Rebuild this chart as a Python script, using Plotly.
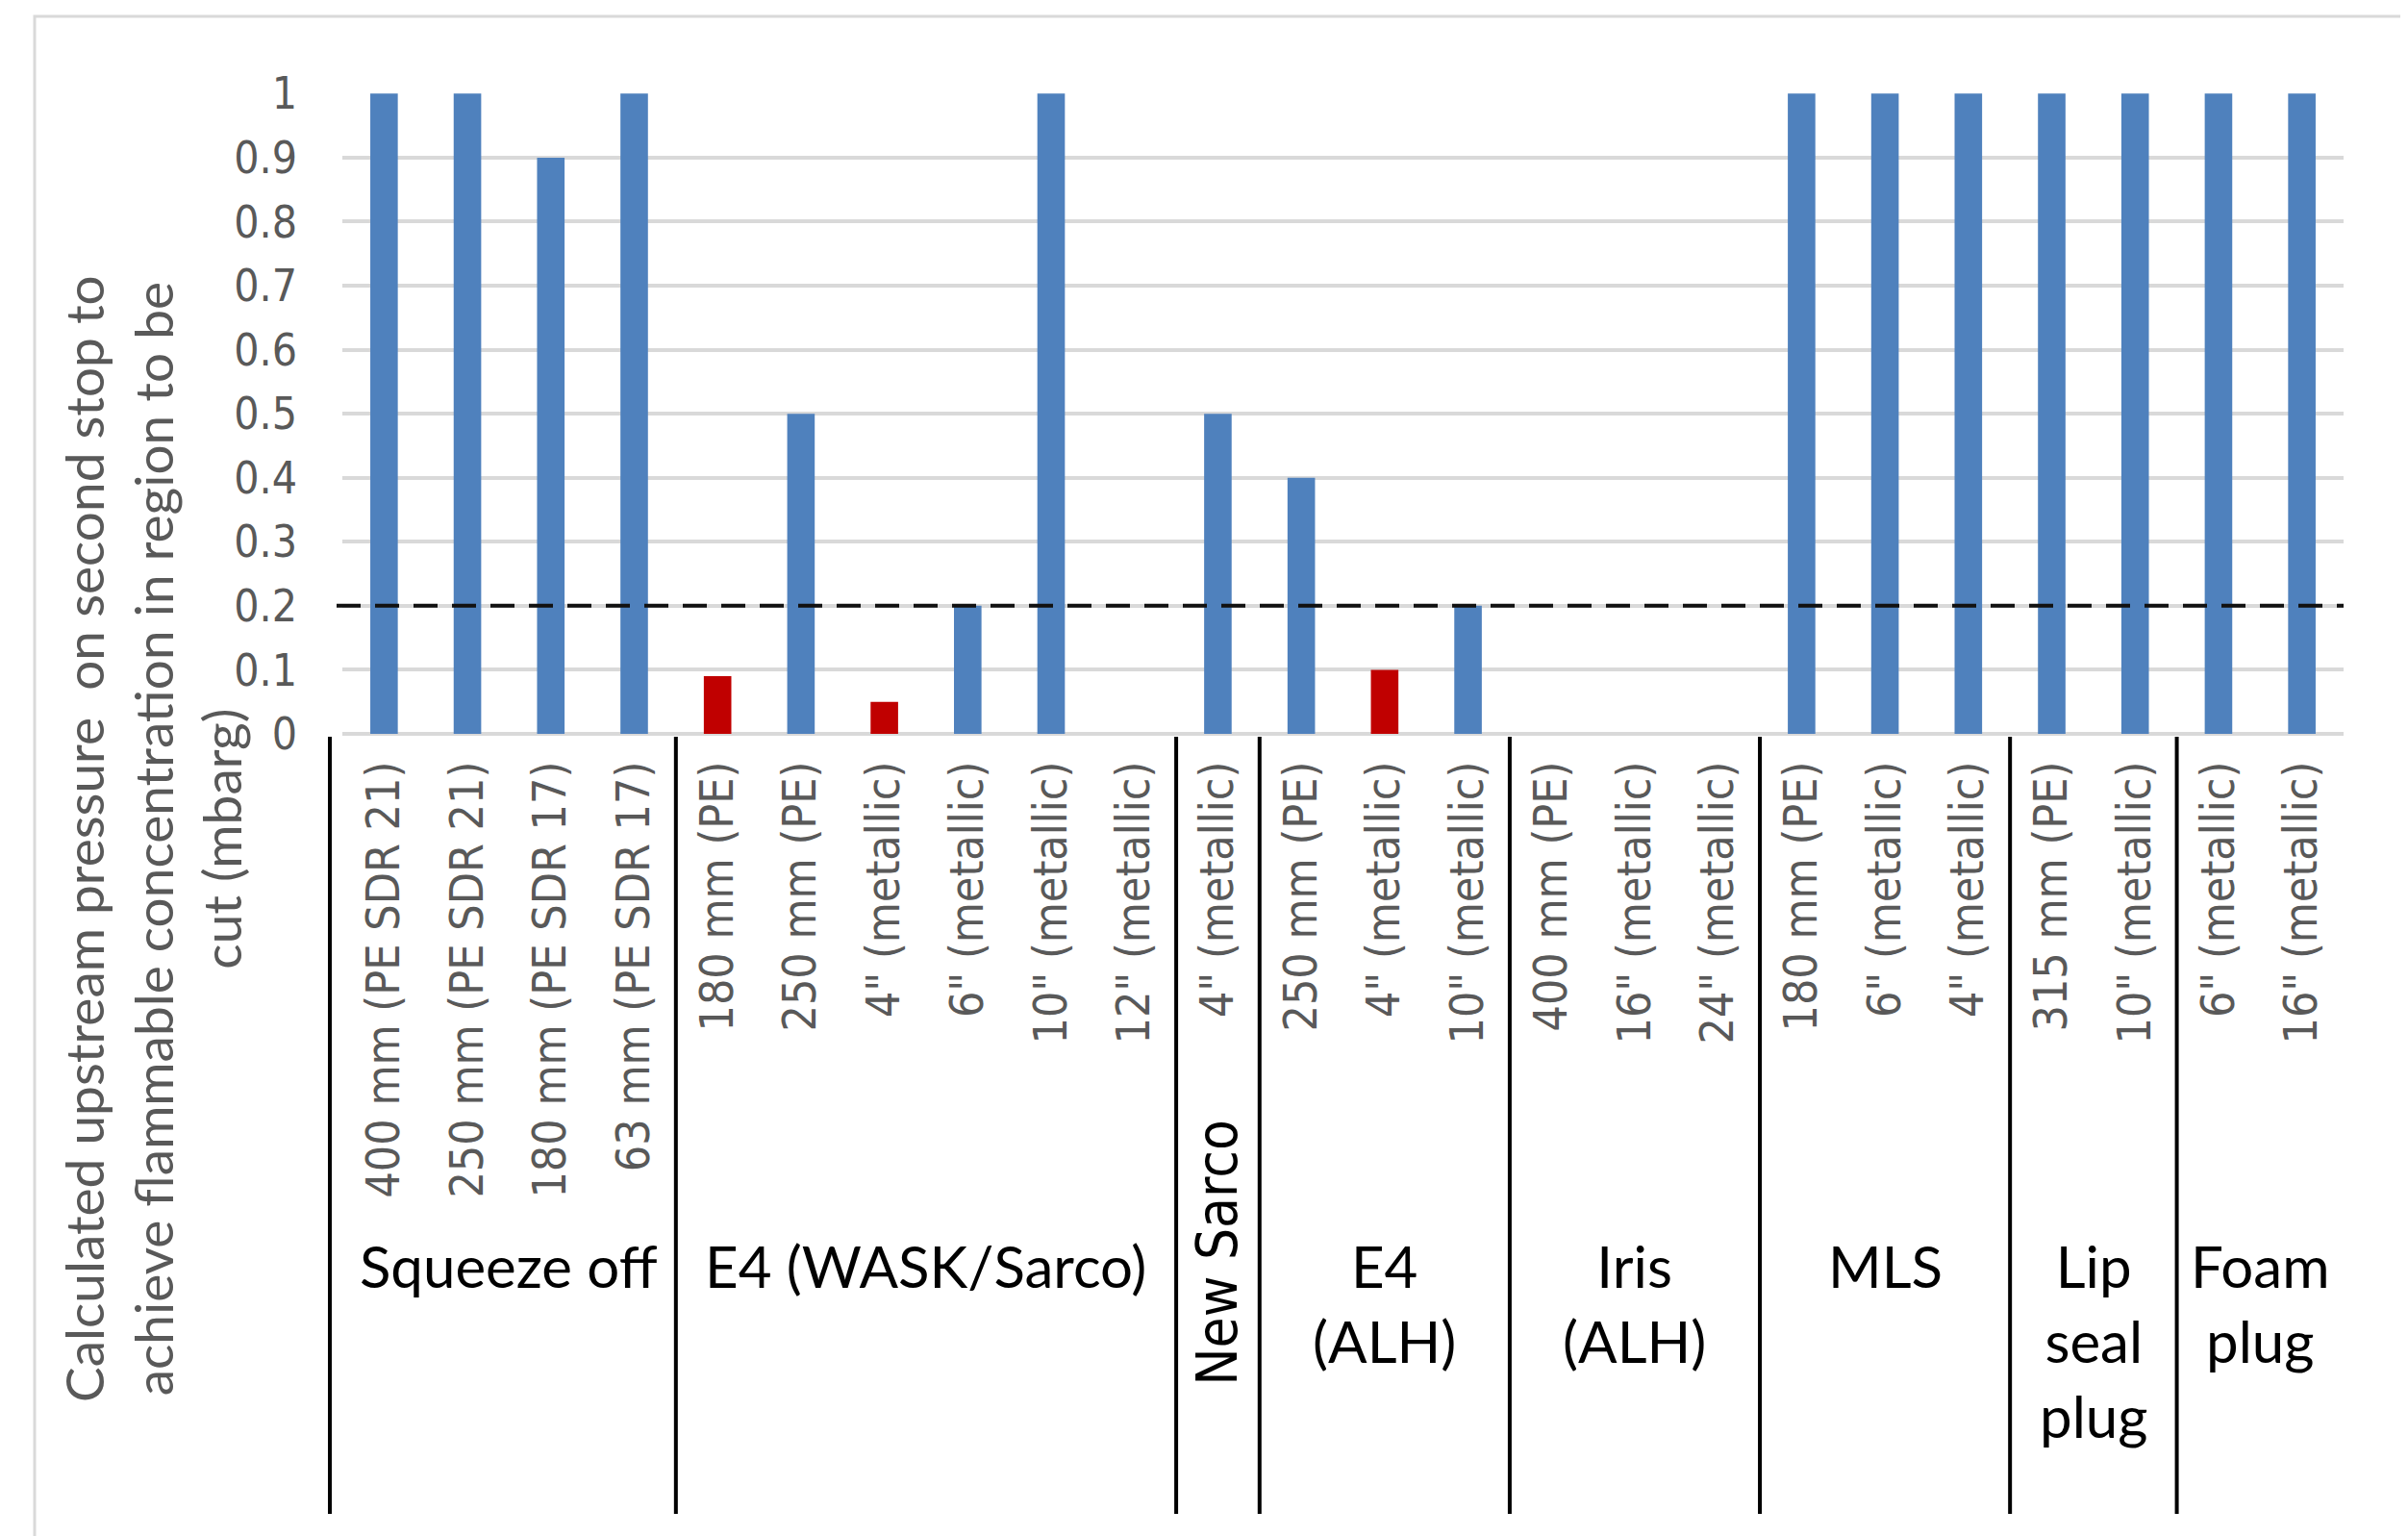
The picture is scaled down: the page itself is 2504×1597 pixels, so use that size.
import plotly.graph_objects as go

# ---------------- data ----------------
categories = [
    '400 mm (PE SDR 21)', '250 mm (PE SDR 21)', '180 mm (PE SDR 17)', '63 mm (PE SDR 17)',
    '180 mm (PE)', '250 mm (PE)', '4" (metallic)', '6" (metallic)', '10" (metallic)', '12" (metallic)',
    '4" (metallic)',
    '250 mm (PE)', '4" (metallic)', '10" (metallic)',
    '400 mm (PE)', '16" (metallic)', '24" (metallic)',
    '180 mm (PE)', '6" (metallic)', '4" (metallic)',
    '315 mm (PE)', '10" (metallic)',
    '6" (metallic)', '16" (metallic)',
]
values = [
    1.0, 1.0, 0.9, 1.0,
    0.09, 0.5, 0.05, 0.2, 1.0, 0.0,
    0.5,
    0.4, 0.1, 0.2,
    0.0, 0.0, 0.0,
    1.0, 1.0, 1.0,
    1.0, 1.0,
    1.0, 1.0,
]
group_names = ["Squeeze off", "E4 (WASK/Sarco)", "New Sarco", "E4 (ALH)",
               "Iris (ALH)", "MLS", "Lip seal plug", "Foam plug"]
group_labels = ["Squeeze off", "E4 (WASK/Sarco)", "New Sarco", "E4<br>(ALH)",
                "Iris<br>(ALH)", "MLS", "Lip<br>seal<br>plug", "Foam<br>plug"]
group_sizes = [4, 6, 1, 3, 3, 3, 2, 2]
threshold = 0.2
y_ticks = [0, 0.1, 0.2, 0.3, 0.4, 0.5, 0.6, 0.7, 0.8, 0.9, 1]
y_title = ("Calculated upstream pressure  on second stop to<br>"
           "achieve flammable concentration in region to be<br>cut (mbarg)")

# ---------------- styling ----------------
BLUE = "#4F81BD"
RED = "#C00000"
GRID = "#D9D9D9"
TXT = "#595959"
TICKFONT = "DejaVu Sans Condensed, DejaVu Sans"
LABELFONT = "Lato"

N = len(categories)
xs = list(range(N))
colors = [RED if (0 < v < threshold) else BLUE for v in values]

fig = go.Figure()
fig.add_trace(go.Bar(
    x=xs, y=values, width=0.33, marker=dict(color=colors, line=dict(width=0)),
    showlegend=False, hoverinfo="skip",
))

# page body has an 8px margin; figure is sized to fill the rest of the window
OFF = 8
W, H = 2504 - OFF, 1597 - OFF
L, R, T, B = 356 - OFF, 67, 97 - OFF, 834
PW, PH = W - L - R, H - T - B


def px_x(X):  # reference-window pixel -> paper x
    return (X - OFF - L) / PW


def px_y(Y):  # reference-window pixel -> paper y
    return (H - B - (Y - OFF)) / PH


shapes = []
# chart-area border (light grey, top and left visible)
shapes.append(dict(type="rect", xref="paper", yref="paper",
                   x0=px_x(36), x1=px_x(2600), y0=px_y(1700), y1=px_y(17),
                   line=dict(color=GRID, width=3), layer="below"))
# threshold dashed line
shapes.append(dict(type="line", xref="paper", yref="y",
                   x0=px_x(350), x1=1, y0=threshold, y1=threshold,
                   line=dict(color="#111111", width=4, dash="25px,15px")))
# group separators
bounds = [-0.5]
for s in group_sizes:
    bounds.append(bounds[-1] + s)
for i, b in enumerate(bounds[:-1]):
    xb = (b + 0.5 - (0.15 if i == 0 else 0.0)) / N
    shapes.append(dict(type="line", xref="paper", yref="paper",
                       x0=xb, x1=xb, y0=px_y(766), y1=px_y(1574),
                       line=dict(color="#000000", width=4)))

annotations = []
start = 0
for name, lab, s in zip(group_names, group_labels, group_sizes):
    cx = start + (s - 1) / 2
    if name == "New Sarco":
        annotations.append(dict(x=cx, xref="x", y=px_y(1302), yref="paper",
                                text=lab, textangle=-90, showarrow=False,
                                xanchor="center", yanchor="middle",
                                font=dict(family=TICKFONT, size=58, color="#000000")))
    else:
        annotations.append(dict(x=cx, xref="x", y=px_y(1278), yref="paper",
                                text=lab, showarrow=False, align="center",
                                xanchor="center", yanchor="top",
                                font=dict(family=LABELFONT, size=60, color="#000000")))
    start += s

annotations.append(dict(x=px_x(158), xref="paper", y=px_y(872), yref="paper",
                        text=y_title, textangle=-90, showarrow=False, align="center",
                        xanchor="center", yanchor="middle",
                        font=dict(family=LABELFONT, size=55, color=TXT)))

fig.update_layout(
    width=W, height=H,
    margin=dict(l=L, r=R, t=T, b=B, pad=0, autoexpand=False),
    paper_bgcolor="white", plot_bgcolor="white",
    shapes=shapes, annotations=annotations,
    xaxis=dict(
        tickmode="array", tickvals=xs, ticktext=categories,
        tickangle=-90, range=[-0.5, N - 0.5],
        showgrid=False, zeroline=False, showline=False, ticks="",
        tickfont=dict(family=TICKFONT, size=48, color=TXT),
        ticklabelstandoff=18, automargin=False,
    ),
    yaxis=dict(
        range=[0, 1.0005], tickmode="array", tickvals=y_ticks,
        ticktext=[("%g" % v) for v in y_ticks],
        showgrid=True, gridcolor=GRID, gridwidth=4,
        zeroline=True, zerolinecolor=GRID, zerolinewidth=4,
        showline=False, ticks="",
        tickfont=dict(family=TICKFONT, size=46, color=TXT),
        ticklabelstandoff=46, automargin=False,
    ),
)

fig.write_html("out.html")
